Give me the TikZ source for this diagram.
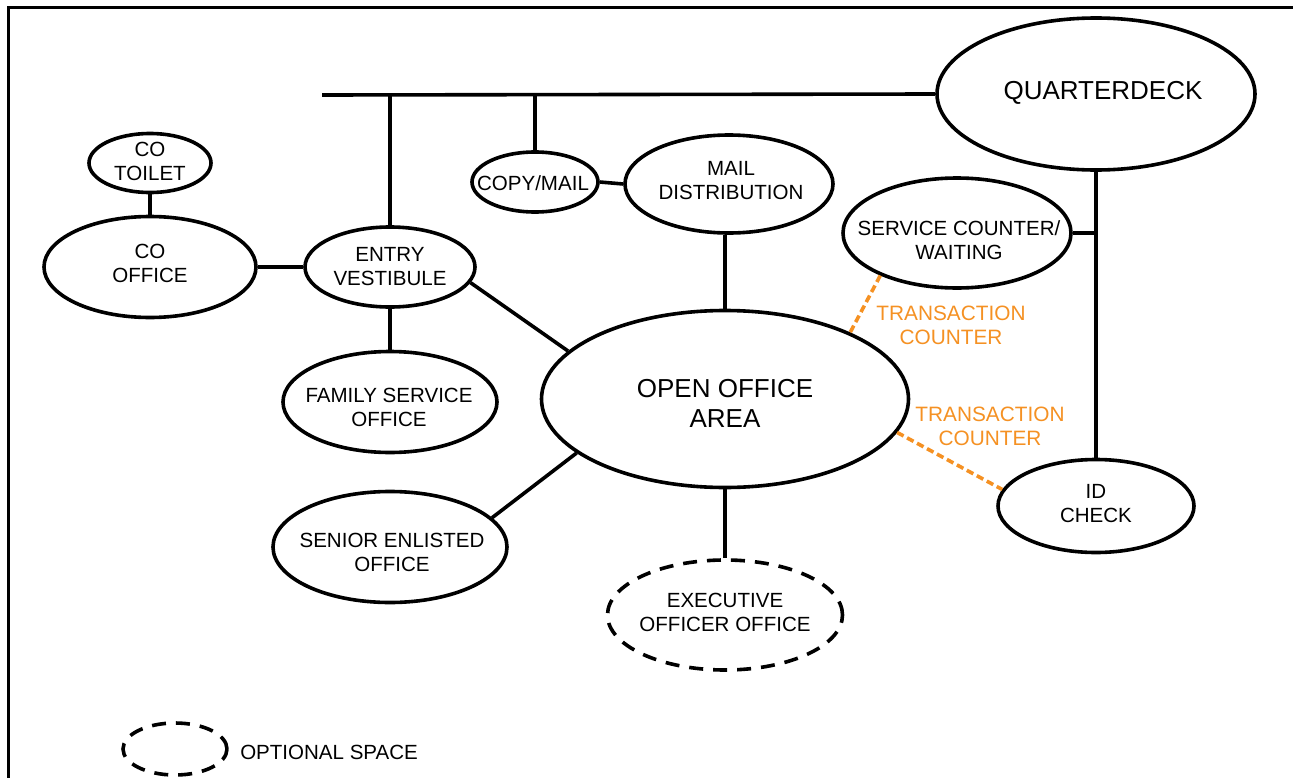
\documentclass[tikz,border=0pt]{standalone}
\usepackage{fontspec}
\setmainfont{Liberation Sans}
\usetikzlibrary{shapes.geometric}
\definecolor{corange}{RGB}{245,145,35}
\begin{document}
\begin{tikzpicture}[x=0.75pt,y=-0.75pt,
  room/.style 2 args={ellipse, draw=black, line width=2.7pt, minimum width=#1, minimum height=#2, inner sep=0pt},
  optional/.style={dash pattern=on 10.5pt off 7.5pt},
  txt/.style={font=\fontsize{15.4}{18}\selectfont, align=center, inner sep=0pt},
  bigtxt/.style={font=\fontsize{19.5}{22.5}\selectfont, align=center, inner sep=0pt},
  orangetxt/.style={text=corange, font=\fontsize{15.6}{18}\selectfont, align=center, inner sep=0pt},
  link/.style={line width=2.7pt},
  txline/.style={draw=corange, line width=2.7pt, dash pattern=on 5.5pt off 3pt}]
\useasboundingbox (0,0) rectangle (1293,778);
\fill[white] (0,0) rectangle (1293,778);
% frame
\draw[line width=2.25pt, line join=miter] (8,778) -- (8,7) -- (1293,7);

% rooms
\node[room={238.5pt}{114pt}] (qd) at (1096,94) {};
\node[room={91.5pt}{44.25pt}] (ct) at (150,163) {};
\node[room={159pt}{75.75pt}] (co) at (150,267) {};
\node[room={127.5pt}{60pt}] (ev) at (390,267) {};
\node[room={94.5pt}{45pt}] (cm) at (535,182) {};
\node[room={156pt}{73.5pt}] (md) at (729,184) {};
\node[room={171pt}{82.5pt}] (sc) at (957,233) {};
\node[room={160.5pt}{75.75pt}] (fs) at (390,402) {};
\node[room={275.25pt}{132.75pt}] (oa) at (725,399) {};
\node[room={175.5pt}{83.25pt}] (se) at (390,547) {};
\node[room={176.25pt}{82.5pt}, optional] (ex) at (725,615) {};
\node[room={147pt}{69.75pt}] (id) at (1096,506) {};
\node[room={78pt}{39pt}, optional] (lg) at (175,749) {};

% texts
\node[bigtxt] (qdt) at (1103,93) {QUARTERDECK};
\node[txt] (ctt) at (150,161) {CO\\TOILET};
\node[txt] (cot) at (150,263) {CO\\OFFICE};
\node[txt] (evt) at (390,267) {ENTRY\\VESTIBULE};
\node[txt] (cmt) at (533,183) {COPY/MAIL};
\node[txt] (mdt) at (731,181) {MAIL\\DISTRIBUTION};
\node[txt] (sct) at (959,240) {SERVICE COUNTER/\\WAITING};
\node[txt] (fst) at (389,407) {FAMILY SERVICE\\OFFICE};
\node[bigtxt] (oat) at (725,403) {OPEN OFFICE\\AREA};
\node[txt] (set) at (392,552) {SENIOR ENLISTED\\OFFICE};
\node[txt] (ext) at (725,612) {EXECUTIVE\\OFFICER OFFICE};
\node[txt] (idt) at (1096,504) {ID\\CHECK};
\node[txt, anchor=west] (lgt) at (240,752) {OPTIONAL SPACE};
\node[orangetxt] (tc1) at (951,325) {TRANSACTION\\COUNTER};
\node[orangetxt] (tc2) at (990,426) {TRANSACTION\\COUNTER};

% connectors
\coordinate (barL) at (322,95);
\draw[link] (barL) -- (qd.west);
\draw[link] (ev.north) -- (ev.north |- barL);
\draw[link] (cm.north) -- (cm.north |- barL);
\draw[link] (cm.east) -- (md.west);
\draw[link] (ct.south) -- (co.north);
\draw[link] (co.east) -- (ev.west);
\draw[link] (ev.south) -- (fs.north);
\draw[link] (ev.-11) -- (oa.163);
\draw[link] (se.16) -- (oa.200);
\draw[link] (oa.north) -- (oa.north |- md.south);
\draw[link] (oa.south) -- (ex.north);
\draw[link] (qd.south) -- (id.north);
\draw[link] (sc.east) -- (sc.east -| qd.south);
\draw[txline] (sc.209) -- (oa.28);
\draw[txline] (oa.-11) -- (id.170);
\end{tikzpicture}
\end{document}
